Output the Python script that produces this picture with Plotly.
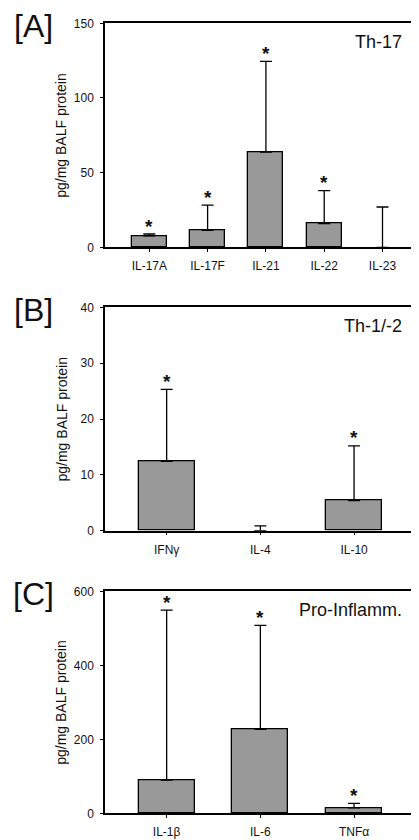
import plotly.graph_objects as go

# ---------------- data ----------------
cats_a = ["IL-17A", "IL-17F", "IL-21", "IL-22", "IL-23"]
mean_a = [7.6, 11.4, 63.8, 15.8, 0.0]
err_a = [1.3, 16.9, 60.7, 22.1, 27.0]
sig_a = [True, True, True, True, False]

cats_b = ["IFNγ", "IL-4", "IL-10"]
mean_b = [12.4, 0.0, 5.4]
err_b = [12.9, 0.85, 9.8]
sig_b = [True, False, True]

cats_c = ["IL-1β", "IL-6", "TNFα"]
mean_c = [90.0, 227.0, 14.4]
err_c = [459.0, 281.0, 12.6]
sig_c = [True, True, True]

panel_labels = ["[A]", "[B]", "[C]"]
panel_titles = ["Th-17", "Th-1/-2", "Pro-Inflamm."]
y_title = "pg/mg BALF protein"
y_ranges = [[0, 150], [0, 40], [0, 600]]
y_ticks = [[0, 50, 100, 150], [0, 10, 20, 30, 40], [0, 200, 400, 600]]

# ---------------- layout geometry ----------------
OFF = 8                      # default page body margin
PW, PH = 419, 840            # page size
W, H = PW - OFF, PH - OFF    # figure size
L = 105                      # page x of the y axis
FONT = "Arial, Liberation Sans, sans-serif"
BAR_COLOR = "#999999"

panels = [
    dict(cats=cats_a, mean=mean_a, err=err_a, sig=sig_a, top=23.3, bot=247.3,
         xr=[-0.76, 4.626]),
    dict(cats=cats_b, mean=mean_b, err=err_b, sig=sig_b, top=307.3, bot=530.7,
         xr=[-0.658, 2.693]),
    dict(cats=cats_c, mean=mean_c, err=err_c, sig=sig_c, top=591.3, bot=813.3,
         xr=[-0.658, 2.693]),
]

fig = go.Figure()
annotations = []
ML = L - OFF
PLOT_W = W - ML


def px_x(p):
    return (p - L) / PLOT_W


def px_y(p):
    return 1 - (p - OFF) / H


for i, p in enumerate(panels):
    n = "" if i == 0 else str(i + 1)
    xs = list(range(len(p["cats"])))
    line_w = [1.3 if v > 0 else 0 for v in p["mean"]]
    fig.add_trace(go.Bar(
        x=xs, y=p["mean"], width=0.6,
        marker=dict(color=BAR_COLOR, line=dict(color="black", width=line_w)),
        error_y=dict(type="data", symmetric=False, array=p["err"],
                     arrayminus=[0] * len(xs), color="black",
                     thickness=1.3, width=6),
        xaxis="x" + n, yaxis="y" + n, showlegend=False, hoverinfo="skip",
    ))
    dom = [px_y(p["bot"]), px_y(p["top"])]
    fig.layout["xaxis" + n] = dict(
        domain=[0, 1], range=p["xr"], anchor="y" + n,
        tickmode="array", tickvals=xs, ticktext=p["cats"],
        showline=True, linecolor="black", linewidth=1.5, mirror=True,
        ticks="outside", ticklen=3, tickwidth=1.3, tickcolor="black",
        showgrid=False, zeroline=False, ticklabelstandoff=4,
        tickfont=dict(family=FONT, size=12, color="#111"),
        fixedrange=True,
    )
    fig.layout["yaxis" + n] = dict(
        domain=dom, range=y_ranges[i], anchor="x" + n,
        tickmode="array", tickvals=y_ticks[i],
        showline=True, linecolor="black", linewidth=1.5,
        ticks="outside", ticklen=3, tickwidth=1.3, tickcolor="black",
        showgrid=False, zeroline=False, ticklabelstandoff=4,
        tickfont=dict(family=FONT, size=12, color="#111"),
        fixedrange=True,
    )
    # significance asterisks
    for j, s in enumerate(p["sig"]):
        if s:
            annotations.append(dict(
                x=xs[j], y=p["mean"][j] + p["err"][j], xref="x" + n, yref="y" + n,
                text="<b>*</b>", showarrow=False, yanchor="middle", yshift=8,
                font=dict(family=FONT, size=19, color="#111"),
            ))
    # y-axis title
    annotations.append(dict(
        x=px_x(61.5), y=(dom[0] + dom[1]) / 2, xref="paper", yref="paper",
        text=y_title, textangle=-90, showarrow=False,
        xanchor="center", yanchor="middle",
        font=dict(family=FONT, size=14, color="#111"),
    ))
    # panel letter
    annotations.append(dict(
        x=px_x(33), y=px_y(p["top"] + 3), xref="paper", yref="paper",
        text=panel_labels[i], showarrow=False, xanchor="center", yanchor="middle",
        font=dict(family=FONT, size=32, color="#111"),
    ))
    # panel title
    annotations.append(dict(
        x=px_x(404), y=px_y(p["top"] + 19), xref="paper", yref="paper",
        text=panel_titles[i], showarrow=False, xanchor="right", yanchor="middle",
        font=dict(family=FONT, size=18, color="#111"),
    ))

fig.update_layout(
    width=W, height=H,
    margin=dict(l=ML, r=0, t=0, b=0, autoexpand=False),
    plot_bgcolor="white", paper_bgcolor="white",
    annotations=annotations, bargap=0,
    font=dict(family=FONT),
)

fig.write_html("out.html")
